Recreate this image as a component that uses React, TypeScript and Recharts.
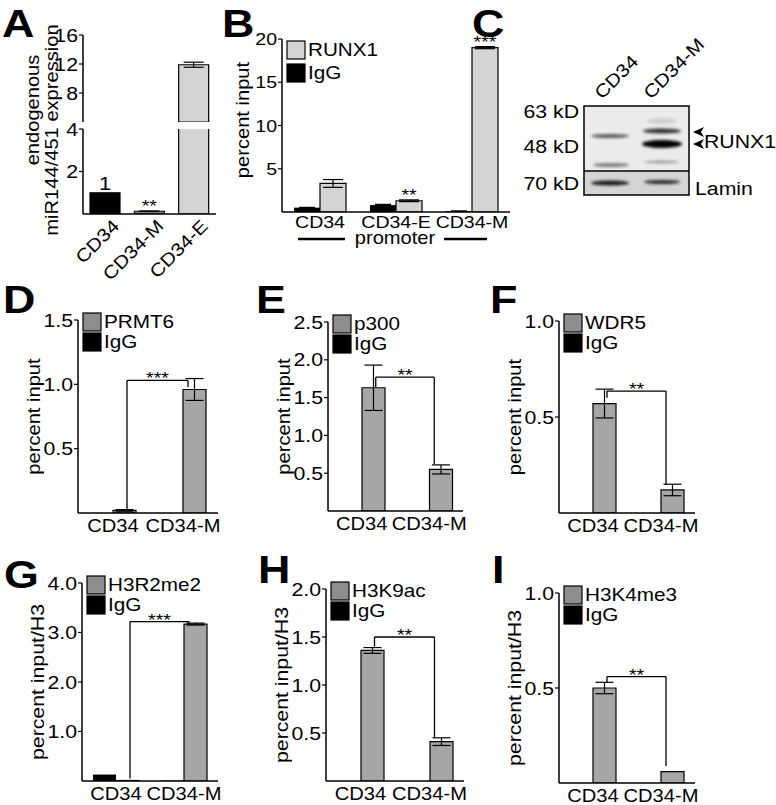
import React from 'react';
import { BarChart, Bar, XAxis, YAxis, ErrorBar, Cell, LabelList, ReferenceLine } from 'recharts';

const FONT = '"Liberation Sans", Arial, Helvetica, sans-serif';
const SX = 1.15;
const INK = '#000';
const GRAY = '#a6a6a6';
const GRAY_KEY = '#8d8d8d';
const LIGHT = '#d4d4d4';
const MID = '#8a8a8a';

// ---- panel A: endogenous miR144/451 (broken axis at 4)
const A_CATS = ['CD34', 'CD34-M', 'CD34-E'];
const A_VALUES = [1, 0.13, 11.9];
const A_ERRORS = [0, 0.01, 0.35];
const A_MARKS = ['1', '**', '***'];
const A_FILLS = [INK, MID, LIGHT];
const A_TICKS_LOW = [2, 4];
const A_TICKS_HIGH = [8, 12, 16];
const A_BREAK = 4;

// ---- panel B: RUNX1 ChIP on promoter
const B_CATS = ['CD34', 'CD34-E', 'CD34-M'];
const B_RUNX1 = [3.3, 1.3, 19.0];
const B_RUNX1_ERR = [0.45, 0.1, 0.12];
const B_IGG = [0.5, 0.8, 0.1];
const B_IGG_ERR = [0.03, 0.08, 0.01];
const B_MARKS = ['', '**', '***'];
const B_TICKS = [5, 10, 15, 20];

// ---- panels D-I
const CHIP_CATS = ['CD34', 'CD34-M'];

const D_AB = [0.02, 0.96];
const D_ERR = [0.006, 0.085];
const D_IGG = [0, 0];
const D_TICKS = [0.5, 1.0, 1.5];
const D_BRACKET = [1.03, 0.03, 0.98];

const E_AB = [1.63, 0.55];
const E_ERR = [0.3, 0.06];
const E_IGG = [0, 0];
const E_TICKS = [0.5, 1.0, 1.5, 2.0, 2.5];
const E_BRACKET = [1.77, 1.64, 0.62];

const F_AB = [0.57, 0.12];
const F_ERR = [0.075, 0.03];
const F_IGG = [0, 0];
const F_TICKS = [0.5, 1.0];
const F_BRACKET = [0.635, 0.6, 0.15];

const G_AB = [0.01, 3.17];
const G_ERR = [0, 0.02];
const G_IGG = [0.13, 0.01];
const G_TICKS = [1.0, 2.0, 3.0, 4.0];
const G_BRACKET = [3.22, 0.05, 3.17];

const H_AB = [1.36, 0.41];
const H_ERR = [0.03, 0.04];
const H_IGG = [0, 0];
const H_TICKS = [0.5, 1.0, 1.5, 2.0];
const H_BRACKET = [1.5, 1.4, 0.45];

const I_AB = [0.5, 0.06];
const I_ERR = [0.03, 0];
const I_IGG = [0, 0];
const I_TICKS = [0.5, 1.0];
const I_BRACKET = [0.56, 0.53, 0.09];

const YW = 50;
const MT = 26;
const MR = 6;
const LEG_L = 14;
const LEG_R = 5;

function T({ x, y, size, anchor = 'start', rotate = 0, bold = false, sx = SX, dy, children }: any) {
  return (
    <text
      transform={`translate(${x},${y}) rotate(${rotate}) scale(${sx},1)`}
      textAnchor={anchor}
      dy={dy}
      fontSize={size}
      fontFamily={FONT}
      fontWeight={bold ? 700 : 400}
      fill={INK}
    >
      {children}
    </text>
  );
}

const yTick = (size: number, digits: number) => (p: any) => (
  <T x={p.x} y={p.y} dy="0.36em" size={size} anchor="end">
    {Number(p.payload.value).toFixed(digits)}
  </T>
);

const xTick = (size: number, dy: number) => (p: any) => (
  <T x={p.x} y={p.y + dy} size={size} anchor="middle">
    {p.payload.value}
  </T>
);

const slantTick = (p: any) => (
  <T x={p.x + 6} y={p.y + 4} dy="0.72em" size={18} anchor="end" rotate={-45}>
    {p.payload.value}
  </T>
);

// asterisks / values above bars, placed over the error bar
const barMark = (marks: string[], errs: number[], base: number) => (p: any) => {
  const vb = p.viewBox || p;
  const x = vb.x ?? p.x;
  const y = vb.y ?? p.y;
  const width = vb.width ?? p.width;
  const height = vb.height ?? p.height;
  const i = p.index;
  const value = p.value;
  if (value == null || !marks[i] || y == null) return null;
  const perUnit = Math.abs(height) / Math.max(1e-6, value - base);
  const errTop = y - (errs[i] || 0) * perUnit;
  const isStar = marks[i].includes('*');
  return (
    <T x={x + width / 2} y={isStar ? errTop + 1 : y - 3} size={isStar ? 17 : 19} anchor="middle">
      {marks[i]}
    </T>
  );
};

function Place({ left, top, children }: any) {
  return <div style={{ position: 'absolute', left, top }}>{children}</div>;
}

function PanelA() {
  const upper = A_CATS.map((cat, i) => ({ cat, v: A_VALUES[i] > A_BREAK ? A_VALUES[i] : null, err: A_ERRORS[i] }));
  const lower = A_CATS.map((cat, i) => ({ cat, v: A_VALUES[i], err: A_VALUES[i] > A_BREAK ? null : A_ERRORS[i] }));
  const upMarks = A_MARKS.map((m, i) => (A_VALUES[i] > A_BREAK ? m : ''));
  const lowMarks = A_MARKS.map((m, i) => (A_VALUES[i] > A_BREAK ? '' : m));
  const plotL = 83;
  const plotW = 133;
  return (
    <>
      <Place left={plotL - YW} top={35 - MT}>
        <BarChart width={YW + plotW + MR} height={MT + 87} data={upper} margin={{ top: MT, right: MR, left: 0, bottom: 0 }} barSize={30}>
          <XAxis dataKey="cat" hide />
          <YAxis type="number" domain={[A_BREAK, 16]} ticks={A_TICKS_HIGH} allowDataOverflow width={YW}
            tickSize={4} tickMargin={1} axisLine={{ stroke: INK, strokeWidth: 1.5 }} tickLine={{ stroke: INK, strokeWidth: 1.2 }}
            tick={yTick(18.5, 0)} />
          <Bar dataKey="v" stroke={INK} strokeWidth={1.2} isAnimationActive={false}>
            {upper.map((_, i) => <Cell key={i} fill={A_FILLS[i]} />)}
            <ErrorBar dataKey="err" width={10} stroke={INK} strokeWidth={1.2} />
            <LabelList dataKey="v" content={barMark(upMarks, A_ERRORS, A_BREAK)} />
          </Bar>
        </BarChart>
      </Place>
      <Place left={plotL - YW} top={129 - MT}>
        <BarChart width={YW + plotW + MR} height={MT + 85 + 90} data={lower} margin={{ top: MT, right: MR, left: 0, bottom: 0 }} barSize={30}>
          <XAxis dataKey="cat" height={90} interval={0} tickLine={false} tickSize={0} tickMargin={0}
            axisLine={{ stroke: INK, strokeWidth: 1.5 }} tick={slantTick} />
          <YAxis type="number" domain={[0, A_BREAK]} ticks={A_TICKS_LOW} allowDataOverflow width={YW}
            tickSize={4} tickMargin={1} axisLine={{ stroke: INK, strokeWidth: 1.5 }} tickLine={{ stroke: INK, strokeWidth: 1.2 }}
            tick={yTick(18.5, 0)} />
          <Bar dataKey="v" stroke={INK} strokeWidth={1.2} isAnimationActive={false}>
            {lower.map((_, i) => <Cell key={i} fill={A_FILLS[i]} />)}
            <ErrorBar dataKey="err" width={10} stroke={INK} strokeWidth={1.2} />
            <LabelList dataKey="v" content={barMark(lowMarks, A_ERRORS, 0)} />
          </Bar>
        </BarChart>
      </Place>
    </>
  );
}

function PanelB() {
  const data = B_CATS.map((cat, i) => ({
    cat, igg: B_IGG[i], iggErr: B_IGG_ERR[i], runx1: B_RUNX1[i], runx1Err: B_RUNX1_ERR[i],
  }));
  const plotL = 282;
  const plotW = 228;
  return (
    <Place left={plotL - YW} top={39 - MT}>
      <BarChart width={YW + plotW + MR} height={MT + 173 + 30} data={data} margin={{ top: MT, right: MR, left: 0, bottom: 0 }} barSize={26} barGap={0}>
        <XAxis dataKey="cat" height={30} interval={0} tickLine={false} tickSize={0} tickMargin={0}
          axisLine={{ stroke: INK, strokeWidth: 1.5 }} tick={xTick(17, 16)} />
        <YAxis type="number" domain={[0, 20]} ticks={B_TICKS} allowDataOverflow width={YW}
          tickSize={4} tickMargin={1} axisLine={{ stroke: INK, strokeWidth: 1.5 }} tickLine={{ stroke: INK, strokeWidth: 1.2 }}
          tick={yTick(17, 0)} />
        <Bar dataKey="igg" fill={INK} isAnimationActive={false}>
          <ErrorBar dataKey="iggErr" width={8} stroke={INK} strokeWidth={1.2} />
        </Bar>
        <Bar dataKey="runx1" fill={LIGHT} stroke={INK} strokeWidth={1.2} isAnimationActive={false}>
          <ErrorBar dataKey="runx1Err" width={10} stroke={INK} strokeWidth={1.2} />
          <LabelList dataKey="runx1" content={barMark(B_MARKS, B_RUNX1_ERR, 0)} />
        </Bar>
      </BarChart>
    </Place>
  );
}

function ChipPanel({ cfg }: any) {
  const data = CHIP_CATS.map((cat, i) => ({ cat, igg: cfg.igg[i], ab: cfg.ab[i], err: cfg.err[i] }));
  const plotW = cfg.right - cfg.left;
  const plotH = cfg.bottom - cfg.top;
  const [top, lb, rb] = cfg.bracket;
  const line = { stroke: INK, strokeWidth: 1.3 };
  return (
    <Place left={cfg.left - YW} top={cfg.top - MT}>
      <BarChart width={YW + plotW + MR} height={MT + plotH + 30} data={data} margin={{ top: MT, right: MR, left: 0, bottom: 0 }} barSize={23} barGap={0}>
        <XAxis dataKey="cat" height={30} interval={0} tickLine={false} tickSize={0} tickMargin={0}
          axisLine={{ stroke: INK, strokeWidth: 1.5 }} tick={xTick(17.5, 19)} />
        <YAxis type="number" domain={[0, cfg.max]} ticks={cfg.ticks} allowDataOverflow width={YW}
          tickSize={4} tickMargin={1} axisLine={{ stroke: INK, strokeWidth: 1.5 }} tickLine={{ stroke: INK, strokeWidth: 1.2 }}
          tick={yTick(18.5, 1)} />
        <Bar dataKey="igg" fill={INK} isAnimationActive={false} />
        <Bar dataKey="ab" fill={GRAY} stroke={INK} strokeWidth={1.2} isAnimationActive={false}>
          <ErrorBar dataKey="err" width={9} stroke={INK} strokeWidth={1.2} />
        </Bar>
        <ReferenceLine
          segment={[{ x: CHIP_CATS[0], y: top }, { x: CHIP_CATS[1], y: top }]}
          ifOverflow="visible"
          shape={(p: any) => (
            <g>
              <line x1={p.x1 + LEG_L} y1={p.y1} x2={p.x2 + LEG_R} y2={p.y2} {...line} />
              <T x={(p.x1 + LEG_L + p.x2 + LEG_R) / 2} y={p.y1 + 4} size={17} anchor="middle">{cfg.mark}</T>
            </g>
          )}
        />
        <ReferenceLine
          segment={[{ x: CHIP_CATS[0], y: top }, { x: CHIP_CATS[0], y: lb }]}
          ifOverflow="visible"
          shape={(p: any) => <line x1={p.x1 + LEG_L} y1={p.y1} x2={p.x2 + LEG_L} y2={p.y2} {...line} />}
        />
        <ReferenceLine
          segment={[{ x: CHIP_CATS[1], y: top }, { x: CHIP_CATS[1], y: rb }]}
          ifOverflow="visible"
          shape={(p: any) => <line x1={p.x1 + LEG_R} y1={p.y1} x2={p.x2 + LEG_R} y2={p.y2} {...line} />}
        />
      </BarChart>
    </Place>
  );
}

const CHIPS = [
  { letter: 'D', lx: 3, ly: 313, ab: D_AB, err: D_ERR, igg: D_IGG, ticks: D_TICKS, max: 1.5, bracket: D_BRACKET, mark: '***', name: 'PRMT6', title: 'percent input', left: 78, top: 320, bottom: 513, right: 218 },
  { letter: 'E', lx: 256, ly: 313, ab: E_AB, err: E_ERR, igg: E_IGG, ticks: E_TICKS, max: 2.5, bracket: E_BRACKET, mark: '**', name: 'p300', title: 'percent input', left: 328, top: 322, bottom: 511, right: 463 },
  { letter: 'F', lx: 490, ly: 313, ab: F_AB, err: F_ERR, igg: F_IGG, ticks: F_TICKS, max: 1.0, bracket: F_BRACKET, mark: '**', name: 'WDR5', title: 'percent input', left: 559, top: 321, bottom: 513, right: 695 },
  { letter: 'G', lx: 4, ly: 588, ab: G_AB, err: G_ERR, igg: G_IGG, ticks: G_TICKS, max: 4.0, bracket: G_BRACKET, mark: '***', name: 'H3R2me2', title: 'percent input/H3', left: 82, top: 583, bottom: 781, right: 218 },
  { letter: 'H', lx: 258, ly: 583, ab: H_AB, err: H_ERR, igg: H_IGG, ticks: H_TICKS, max: 2.0, bracket: H_BRACKET, mark: '**', name: 'H3K9ac', title: 'percent input/H3', left: 326, top: 589, bottom: 781, right: 464 },
  { letter: 'I', lx: 492, ly: 583, ab: I_AB, err: I_ERR, igg: I_IGG, ticks: I_TICKS, max: 1.0, bracket: I_BRACKET, mark: '**', name: 'H3K4me3', title: 'percent input/H3', left: 559, top: 593, bottom: 783, right: 695 },
];

// western blot bands: [cx, cy, width, height, colour]
const BANDS: [number, number, number, number, string][] = [
  [610, 136, 38, 4, '#5a5a5a'],
  [611, 165, 36, 4, '#7a7a7a'],
  [662, 121, 30, 6, '#cfcfcf'],
  [662, 131, 38, 5, '#303030'],
  [662, 144, 40, 8, '#050505'],
  [662, 162, 36, 3, '#9a9a9a'],
  [610, 183, 38, 5, '#151515'],
  [662, 182, 36, 4, '#262626'],
];

function Blot() {
  return (
    <g>
      <defs>
        <filter id="bandBlur" x="-20%" y="-100%" width="140%" height="300%">
          <feGaussianBlur stdDeviation="1.4" />
        </filter>
      </defs>
      <rect x={584} y={106} width={105} height={65} fill="#ececec" />
      <rect x={584} y={171} width={105} height={24} fill="#d4d4d4" />
      <g filter="url(#bandBlur)">
        {BANDS.map(([cx, cy, w, h, c], i) => (
          <ellipse key={i} cx={cx} cy={cy} rx={w / 2} ry={h / 2} fill={c} />
        ))}
      </g>
      <rect x={584} y={106} width={105} height={89} fill="none" stroke={INK} strokeWidth={1.5} />
      <line x1={584} y1={171} x2={689} y2={171} stroke={INK} strokeWidth={1.5} />
      <path d="M693,132 L704,127 L701,132 L704,137 Z" fill={INK} />
      <path d="M693,144 L704,139 L701,144 L704,149 Z" fill={INK} />
      <T x={579} y={111} dy="0.36em" size={18.5} anchor="end">63 kD</T>
      <T x={579} y={146} dy="0.36em" size={18.5} anchor="end">48 kD</T>
      <T x={579} y={183} dy="0.36em" size={18.5} anchor="end">70 kD</T>
      <T x={704} y={141} dy="0.36em" size={18.5}>RUNX1</T>
      <T x={695} y={188} dy="0.36em" size={18.5}>Lamin</T>
      <T x={602} y={100} size={18} rotate={-45}>CD34</T>
      <T x={651} y={100} size={18} rotate={-45}>CD34-M</T>
    </g>
  );
}

function Key({ x, y, fill, label, size = 18 }: any) {
  return (
    <g>
      <rect x={x} y={y} width={18} height={18} fill={fill} stroke={INK} strokeWidth={1.2} />
      <T x={x + 21} y={y + 9} dy="0.36em" size={size}>{label}</T>
    </g>
  );
}

function Overlay() {
  return (
    <svg width={776} height={805} style={{ position: 'absolute', left: 0, top: 0, pointerEvents: 'none' }}>
      <T x={2} y={37} size={39} bold>A</T>
      <T x={222} y={37} size={39} bold>B</T>
      <T x={472} y={37} size={39} bold>C</T>

      <T x={32.5} y={110} size={17.5} rotate={-90} anchor="middle" dy="0.35em">endogenous</T>
      <T x={52} y={130} size={17.5} rotate={-90} anchor="middle" dy="0.35em">miR144/451 expression</T>

      <T x={243} y={120} size={17.5} rotate={-90} anchor="middle" dy="0.35em">percent input</T>
      <Key x={287} y={41} fill={LIGHT} label="RUNX1" size={18} />
      <Key x={287} y={64} fill={INK} label="IgG" size={18} />
      <line x1={298} y1={239} x2={345} y2={239} stroke={INK} strokeWidth={2.5} />
      <line x1={444} y1={239} x2={487} y2={239} stroke={INK} strokeWidth={2.5} />
      <T x={395} y={239} dy="0.3em" size={17.5} anchor="middle">promoter</T>

      <Blot />

      {CHIPS.map((c) => (
        <g key={c.letter}>
          <T x={c.lx} y={c.ly} size={39} bold>{c.letter}</T>
          <T x={c.left - 44} y={(c.top + c.bottom) / 2} size={c.title.length > 14 ? 18.5 : 17.5} rotate={-90} anchor="middle" dy="0.35em">
            {c.title}
          </T>
          <Key x={c.left + 5} y={c.top - 7} fill={GRAY_KEY} label={c.name} />
          <Key x={c.left + 5} y={c.top + 13} fill={INK} label="IgG" />
        </g>
      ))}
    </svg>
  );
}

export default function App() {
  return (
    <div style={{ position: 'absolute', left: 0, top: 0, width: 776, height: 805, background: '#fff', fontFamily: FONT }}>
      <PanelA />
      <PanelB />
      {CHIPS.map((c) => <ChipPanel key={c.letter} cfg={c} />)}
      <Overlay />
    </div>
  );
}
